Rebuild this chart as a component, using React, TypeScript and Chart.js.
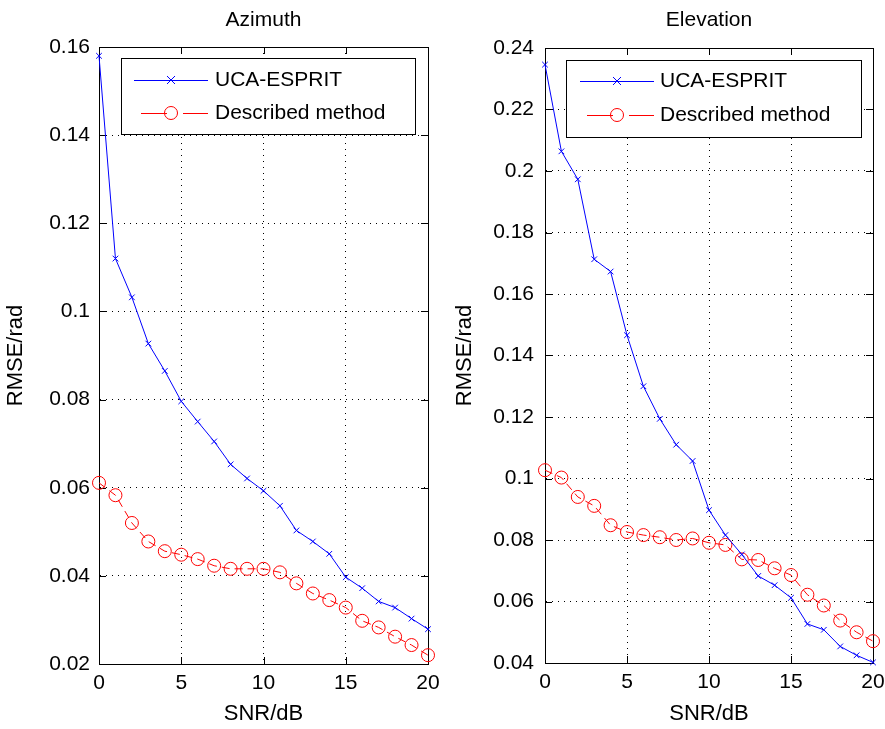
import React, { useEffect, useRef } from "react";
import { Chart, registerables } from "chart.js";

Chart.register(...registerables);

// ---------- data ----------
const snr = [0, 1, 2, 3, 4, 5, 6, 7, 8, 9, 10, 11, 12, 13, 14, 15, 16, 17, 18, 19, 20];

const azEsprit = [
  0.158, 0.112, 0.1032, 0.0927, 0.0865, 0.0796, 0.075, 0.0705, 0.0653, 0.0621, 0.0593,
  0.0559, 0.0503, 0.0478, 0.045, 0.0397, 0.0372, 0.0342, 0.0328, 0.0303, 0.0279,
];
const azDescribed = [
  0.0611, 0.0583, 0.052, 0.0478, 0.0456, 0.0448, 0.0438, 0.0423, 0.0416, 0.0416, 0.0416,
  0.0408, 0.0383, 0.036, 0.0345, 0.0328, 0.0298, 0.0283, 0.0262, 0.0243, 0.022,
];
const elEsprit = [
  0.2346, 0.2064, 0.1973, 0.1713, 0.1673, 0.1466, 0.13, 0.1194, 0.111, 0.1057, 0.0897,
  0.0816, 0.0753, 0.0683, 0.0653, 0.0612, 0.0527, 0.0508, 0.0454, 0.0425, 0.0402,
];
const elDescribed = [
  0.1027, 0.1003, 0.094, 0.0911, 0.0848, 0.0826, 0.0816, 0.0809, 0.08, 0.0805, 0.0791,
  0.0784, 0.0737, 0.0735, 0.0708, 0.0686, 0.0622, 0.0587, 0.0538, 0.05, 0.0471,
];

const xTicks = [0, 5, 10, 15, 20];
const azYTicks = [0.02, 0.04, 0.06, 0.08, 0.1, 0.12, 0.14, 0.16];
const elYTicks = [0.04, 0.06, 0.08, 0.1, 0.12, 0.14, 0.16, 0.18, 0.2, 0.22, 0.24];

const seriesNames = ["UCA-ESPRIT", "Described method"];
const titles = ["Azimuth", "Elevation"];
const xTitle = "SNR/dB";
const yTitle = "RMSE/rad";

// ---------- style ----------
const FONT = "'Liberation Sans', Arial, Helvetica, sans-serif";
const BLUE = "#0000ff";
const RED = "#ff0000";

type PanelCfg = {
  title: string;
  esprit: number[];
  described: number[];
  yTicks: number[];
  yAxisWidth: number;
  padRight: number;
  padTop: number;
  xAxisHeight: number;
  yTickPad: number;
  yTitlePad: number;
  legend: { x: number; y: number; w: number; h: number; lineX0: number; lineX1: number; textX: number; row1: number; row2: number };
};

function makeDecor(cfg: PanelCfg) {
  return {
    id: "decor",
    beforeDatasetsDraw(chart: any) {
      const { ctx, chartArea: a, scales } = chart;
      ctx.save();
      ctx.strokeStyle = "#000";
      ctx.lineWidth = 1;
      ctx.setLineDash([]);
      // inner tick marks
      const tl = 7;
      ctx.beginPath();
      for (const v of xTicks) {
        const px = Math.round(scales.x.getPixelForValue(v)) + 0.5;
        ctx.moveTo(px, a.bottom);
        ctx.lineTo(px, a.bottom - tl);
        ctx.moveTo(px, a.top);
        ctx.lineTo(px, a.top + tl);
      }
      for (const v of cfg.yTicks) {
        const py = Math.round(scales.y.getPixelForValue(v)) + 0.5;
        ctx.moveTo(a.left, py);
        ctx.lineTo(a.left + tl, py);
        ctx.moveTo(a.right, py);
        ctx.lineTo(a.right - tl, py);
      }
      ctx.stroke();
      // frame
      ctx.strokeRect(Math.round(a.left) + 0.5, Math.round(a.top) + 0.5, Math.round(a.right - a.left), Math.round(a.bottom - a.top));
      ctx.restore();
    },
    afterDraw(chart: any) {
      const { ctx, chartArea: a } = chart;
      const L = cfg.legend;
      ctx.save();
      // title
      ctx.fillStyle = "#000";
      ctx.font = `21px ${FONT}`;
      ctx.textAlign = "center";
      ctx.textBaseline = "middle";
      ctx.fillText(cfg.title, (a.left + a.right) / 2, 20);
      // legend box
      ctx.fillStyle = "#fff";
      ctx.fillRect(L.x, L.y, L.w, L.h);
      ctx.strokeStyle = "#000";
      ctx.lineWidth = 1;
      ctx.strokeRect(L.x + 0.5, L.y + 0.5, L.w, L.h);
      const mid = (L.lineX0 + L.lineX1) / 2;
      // row 1: blue solid with x
      ctx.strokeStyle = BLUE;
      ctx.beginPath();
      ctx.moveTo(L.lineX0, L.row1 + 0.5);
      ctx.lineTo(L.lineX1, L.row1 + 0.5);
      const r = 4;
      ctx.moveTo(mid - r, L.row1 - r);
      ctx.lineTo(mid + r, L.row1 + r);
      ctx.moveTo(mid - r, L.row1 + r);
      ctx.lineTo(mid + r, L.row1 - r);
      ctx.stroke();
      // row 2: red dashed with circle
      ctx.strokeStyle = RED;
      ctx.beginPath();
      ctx.moveTo(L.lineX0 + 7, L.row2 + 0.5);
      ctx.lineTo(mid - 4, L.row2 + 0.5);
      ctx.moveTo(mid + 12, L.row2 + 0.5);
      ctx.lineTo(L.lineX1, L.row2 + 0.5);
      ctx.stroke();
      ctx.beginPath();
      ctx.arc(mid, L.row2, 6.5, 0, Math.PI * 2);
      ctx.stroke();
      // texts
      ctx.fillStyle = "#000";
      ctx.font = `21px ${FONT}`;
      ctx.textAlign = "left";
      ctx.textBaseline = "middle";
      ctx.fillText(seriesNames[0], L.textX, L.row1);
      ctx.fillText(seriesNames[1], L.textX, L.row2);
      ctx.restore();
    },
  };
}

function fmt(v: number) {
  return String(Number(v.toFixed(2)));
}

function Panel({ cfg, left, width }: { cfg: PanelCfg; left: number; width: number }) {
  const ref = useRef<HTMLCanvasElement | null>(null);
  useEffect(() => {
    if (!ref.current) return;
    const tickFont = { family: FONT, size: 21 };
    const titleFont = { family: FONT, size: 22 };
    const chart = new Chart(ref.current, {
      type: "line",
      data: {
        datasets: [
          {
            label: seriesNames[0],
            data: snr.map((x, i) => ({ x, y: cfg.esprit[i] })),
            borderColor: BLUE,
            borderWidth: 1,
            pointStyle: "crossRot",
            pointRadius: 4,
            pointBorderColor: BLUE,
            pointBorderWidth: 1,
            pointBackgroundColor: BLUE,
            tension: 0,
            fill: false,
            clip: false as any,
          },
          {
            label: seriesNames[1],
            data: snr.map((x, i) => ({ x, y: cfg.described[i] })),
            borderColor: RED,
            borderWidth: 1,
            borderDash: [8, 5],
            pointStyle: "circle",
            pointRadius: 6.5,
            pointBorderColor: RED,
            pointBorderWidth: 1,
            pointBackgroundColor: "rgba(0,0,0,0)",
            tension: 0,
            fill: false,
            clip: false as any,
          },
        ],
      },
      options: {
        responsive: false,
        animation: false,
        devicePixelRatio: 1,
        layout: { padding: { left: 0, right: cfg.padRight, top: cfg.padTop, bottom: 0 } },
        plugins: {
          legend: { display: false },
          title: { display: false },
          tooltip: { enabled: false },
        },
        scales: {
          x: {
            type: "linear",
            min: 0,
            max: 20,
            afterBuildTicks: (s: any) => {
              s.ticks = xTicks.map((v) => ({ value: v }));
            },
            afterFit: (s: any) => {
              s.height = cfg.xAxisHeight;
              s.paddingLeft = 0;
              s.paddingRight = 0;
            },
            ticks: { color: "#000", font: tickFont, padding: 7, maxRotation: 0, autoSkip: false, callback: (v: any) => String(v) },
            grid: { color: "#000", lineWidth: 1, drawTicks: false },
            border: { display: true, color: "#000", width: 1, dash: [1, 5] },
            title: { display: true, text: xTitle, color: "#000", font: titleFont, padding: { top: 0, bottom: 2 } },
          },
          y: {
            type: "linear",
            min: cfg.yTicks[0],
            max: cfg.yTicks[cfg.yTicks.length - 1],
            afterBuildTicks: (s: any) => {
              s.ticks = cfg.yTicks.map((v) => ({ value: v }));
            },
            afterFit: (s: any) => {
              s.width = cfg.yAxisWidth;
              s.paddingTop = 0;
              s.paddingBottom = 0;
            },
            ticks: { color: "#000", font: tickFont, padding: cfg.yTickPad, autoSkip: false, callback: (v: any) => fmt(Number(v)) },
            grid: { color: "#000", lineWidth: 1, drawTicks: false },
            border: { display: true, color: "#000", width: 1, dash: [1, 5] },
            title: { display: true, text: yTitle, color: "#000", font: titleFont, padding: { top: cfg.yTitlePad, bottom: 0 } },
          },
        },
      } as any,
      plugins: [makeDecor(cfg)],
    });
    return () => chart.destroy();
  }, [cfg]);
  return (
    <canvas
      ref={ref}
      width={width}
      height={729}
      style={{ position: "absolute", left, top: 0, width, height: 729, display: "block" }}
    />
  );
}

const leftCfg: PanelCfg = {
  title: titles[0],
  esprit: azEsprit,
  described: azDescribed,
  yTicks: azYTicks,
  yAxisWidth: 99,
  padRight: 14,
  padTop: 47,
  xAxisHeight: 65,
  yTickPad: 9,
  yTitlePad: 3,
  legend: { x: 121, y: 58, w: 294, h: 76, lineX0: 134, lineX1: 208, textX: 215, row1: 80, row2: 113 },
};

const rightCfg: PanelCfg = {
  title: titles[1],
  esprit: elEsprit,
  described: elDescribed,
  yTicks: elYTicks,
  yAxisWidth: 100,
  padRight: 12,
  padTop: 48,
  xAxisHeight: 66,
  yTickPad: 11,
  yTitlePad: 7,
  legend: { x: 121, y: 60, w: 295, h: 77, lineX0: 135, lineX1: 209, textX: 215, row1: 81, row2: 115 },
};

export default function App() {
  return (
    <div style={{ position: "absolute", left: 0, top: 0, width: 885, height: 729, background: "#fff", overflow: "hidden" }}>
      <Panel cfg={leftCfg} left={0} width={442} />
      <Panel cfg={rightCfg} left={445} width={440} />
    </div>
  );
}
